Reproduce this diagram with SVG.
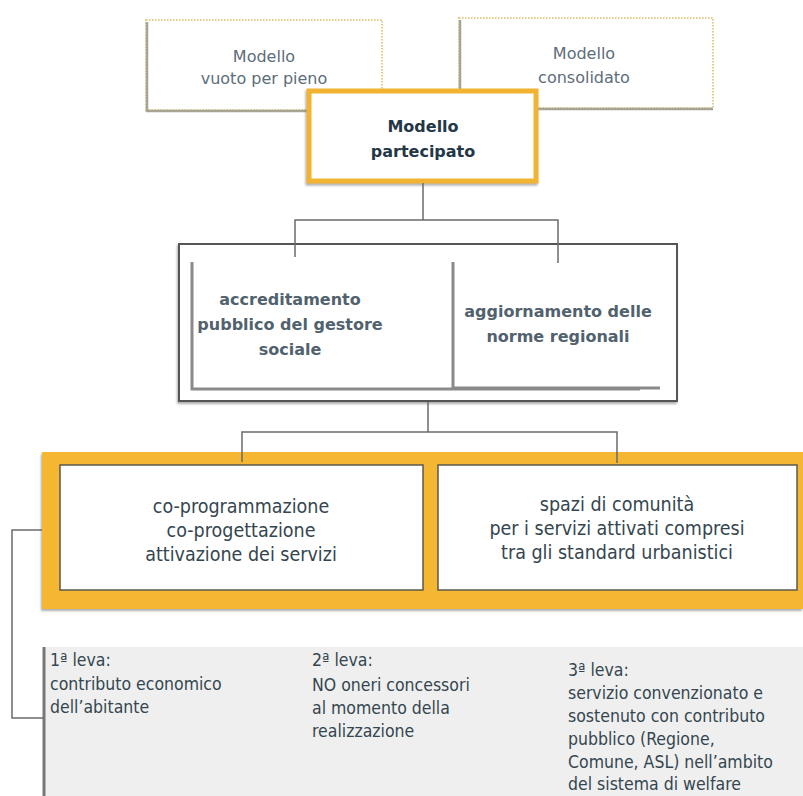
<svg xmlns="http://www.w3.org/2000/svg" width="803" height="796" viewBox="0 0 803 796">
<defs>
<filter id="sh" x="-10%" y="-10%" width="120%" height="130%">
<feDropShadow dx="-1" dy="2" stdDeviation="1.2" flood-color="#777" flood-opacity="0.6"/>
</filter>
<style>
.t1{font-family:"DejaVu Sans",sans-serif;font-size:16px;fill:#5d6d7a;text-anchor:middle}
.tb{font-family:"DejaVu Sans",sans-serif;font-size:16px;font-weight:bold;fill:#243746;text-anchor:middle}
.t2{font-family:"DejaVu Sans",sans-serif;font-size:16px;font-weight:bold;fill:#51626e;text-anchor:middle}
.t3{font-family:"DejaVu Sans Condensed","DejaVu Sans",sans-serif;font-stretch:condensed;font-size:19.5px;fill:#34464f;text-anchor:middle}
.t4{font-family:"DejaVu Sans Condensed","DejaVu Sans",sans-serif;font-stretch:condensed;font-size:17.5px;fill:#34464f}
.dot{fill:#fff;stroke:#e2cd84;stroke-width:2;stroke-dasharray:1.5 1.5}
.shl{fill:none;stroke:#a7a493;stroke-width:2.5}
.con{fill:none;stroke:#6b6b6b;stroke-width:1.5}
.ell{fill:none;stroke:#8a8a8a;stroke-width:3}
.inner{fill:#fff;stroke:#5b5a4c;stroke-width:1.5}
</style>
</defs>
<rect width="803" height="796" fill="#fff"/>
<g id="node-vuoto">
<rect class="dot" x="146" y="20" width="236" height="90"/>
<path class="shl" d="M147,22 V111 H382"/>
<text class="t1" x="264" y="62">Modello</text>
<text class="t1" x="264" y="84">vuoto per pieno</text>
</g>
<g id="node-consolidato">
<rect class="dot" x="459" y="18" width="254" height="90"/>
<path class="shl" d="M460,20 V109 H713"/>
<text class="t1" x="584" y="59">Modello</text>
<text class="t1" x="584" y="83">consolidato</text>
</g>
<g id="node-partecipato">
<rect x="309" y="91" width="227" height="90" fill="#fff" stroke="#f0b433" stroke-width="5" filter="url(#sh)"/>
<text class="tb" x="423" y="132">Modello</text>
<text class="tb" x="423" y="157">partecipato</text>
</g>
<g id="node-norme">
<rect x="179" y="244" width="498" height="157" fill="#fff" stroke="#555" stroke-width="2" filter="url(#sh)"/>
<path class="ell" d="M192,262 V389 H640"/>
<path class="ell" d="M453,262 V388 H660"/>
<text class="t2" x="290" y="305">accreditamento</text>
<text class="t2" x="290" y="330">pubblico del gestore</text>
<text class="t2" x="290" y="355">sociale</text>
<text class="t2" x="558" y="317">aggiornamento delle</text>
<text class="t2" x="558" y="342">norme regionali</text>
</g>
<g id="node-servizi">
<rect x="42" y="452" width="761" height="157" fill="#f5b730" filter="url(#sh)"/>
<rect class="inner" x="60" y="465" width="363" height="125"/>
<rect class="inner" x="438" y="465" width="359" height="125"/>
<text class="t3" x="241" y="513">co-programmazione</text>
<text class="t3" x="241" y="537">co-progettazione</text>
<text class="t3" x="241" y="561">attivazione dei servizi</text>
<text class="t3" x="617" y="511">spazi di comunità</text>
<text class="t3" x="617" y="535">per i servizi attivati compresi</text>
<text class="t3" x="617" y="559">tra gli standard urbanistici</text>
</g>
<g id="node-leve">
<rect x="43" y="647" width="760" height="149" fill="#efefef"/>
<line x1="44" y1="647" x2="44" y2="796" stroke="#777" stroke-width="3"/>
<text class="t4" x="50" y="666">1ª leva:</text>
<text class="t4" x="50" y="690">contributo economico</text>
<text class="t4" x="50" y="713">dell’abitante</text>
<text class="t4" x="312" y="666">2ª leva:</text>
<text class="t4" x="312" y="691">NO oneri concessori</text>
<text class="t4" x="312" y="714">al momento della</text>
<text class="t4" x="312" y="737">realizzazione</text>
<text class="t4" x="568" y="676">3ª leva:</text>
<text class="t4" x="568" y="699">servizio convenzionato e</text>
<text class="t4" x="568" y="722">sostenuto con contributo</text>
<text class="t4" x="568" y="745">pubblico (Regione,</text>
<text class="t4" x="568" y="768">Comune, ASL) nell’ambito</text>
<text class="t4" x="568" y="790">del sistema di welfare</text>
</g>
<g id="connectors">
<path class="con" d="M423,183 V220 M295,257 V220 H558 V263"/>
<path class="con" d="M428,402 V432 M242,462 V432 H617 V463"/>
<path class="con" d="M42,530 H12 V718 H43"/>
</g>
</svg>
